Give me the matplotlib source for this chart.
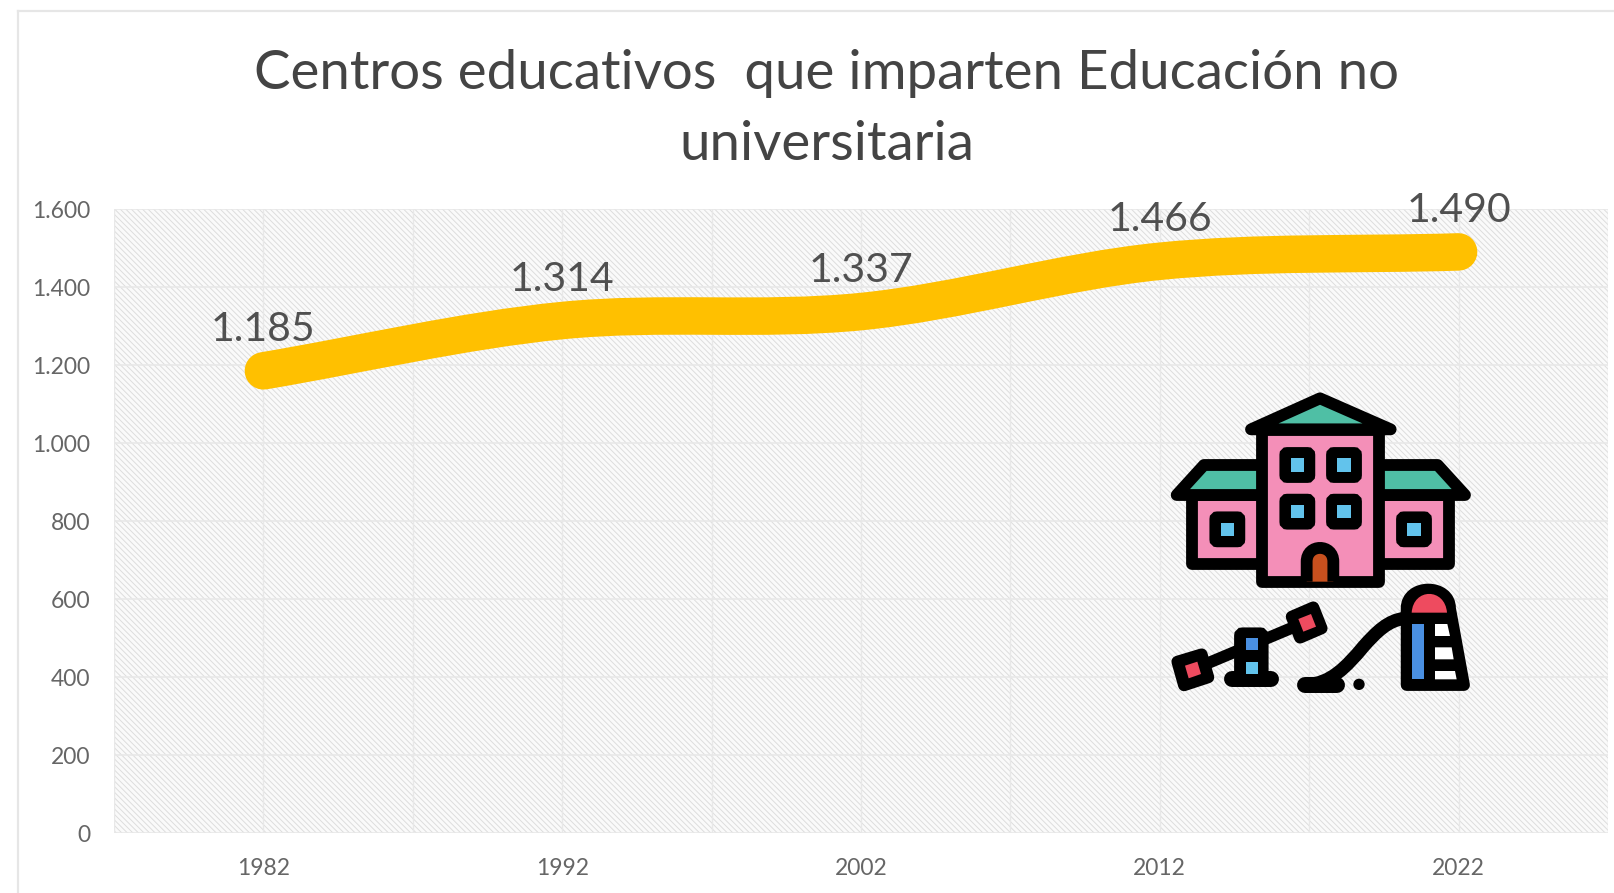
import matplotlib
matplotlib.use("Agg")
import matplotlib.pyplot as plt
from matplotlib.path import Path
from matplotlib.patches import PathPatch, Polygon, Rectangle, FancyBboxPatch, Circle
from matplotlib.lines import Line2D

years = ["1982", "1992", "2002", "2012", "2022"]
centros = [1185, 1314, 1337, 1466, 1490]
labels = ["1.185", "1.314", "1.337", "1.466", "1.490"]
yticks = [0, 200, 400, 600, 800, 1000, 1200, 1400, 1600]
ytick_labels = ["0", "200", "400", "600", "800", "1.000", "1.200", "1.400", "1.600"]

W, H = 1614, 893
plt.rcParams['font.family'] = ['Lato', 'DejaVu Sans']
plt.rcParams['hatch.linewidth'] = 0.7
plt.rcParams['hatch.color'] = '#dddddd'

fig = plt.figure(figsize=(W / 100, H / 100), dpi=100, facecolor='white')

# outer chart frame, runs off the image on the right and at the bottom
frame = '#e6e6e6'
fig.add_artist(Line2D([18 / W, 18 / W], [0, 1 - 11 / H], color=frame, lw=1.6))
fig.add_artist(Line2D([18 / W, 1], [1 - 11 / H, 1 - 11 / H], color=frame, lw=1.6))

ax = fig.add_axes([114 / W, 1 - 833 / H, (1608 - 114) / W, (833 - 209) / H])
ax.set_xlim(-0.5, 4.5)
ax.set_ylim(0, 1600)
ax.patch.set_facecolor('#fafafa')
ax.patch.set_hatch('\\\\\\\\\\\\')
ax.patch.set_edgecolor('#dddddd')
ax.patch.set_linewidth(0)
for s in ax.spines.values():
    s.set_visible(False)

# gridlines: horizontal on ticks, vertical every half category
for y in yticks:
    ax.axhline(y, color='#e8e8e8', lw=1.2, zorder=1)
for i in range(11):
    ax.axvline(-0.5 + i * 0.5, color='#e8e8e8', lw=1.0, zorder=1)

# smoothed line, same kind of curve a spreadsheet draws: bezier through each value
n = len(centros)
verts = [(0, centros[0])]
codes = [Path.MOVETO]
for i in range(n - 1):
    y1 = centros[i]
    y2 = centros[i + 1]
    # first and last point take the slope of their own segment
    t1 = (y2 - centros[i - 1]) / 6 if i > 0 else (y2 - y1) / 3
    t2 = (centros[i + 2] - y1) / 6 if i < n - 2 else (y2 - y1) / 3
    verts += [(i + 1 / 3, y1 + t1), (i + 2 / 3, y2 - t2), (i + 1, y2)]
    codes += [Path.CURVE4] * 3
ax.add_patch(PathPatch(Path(verts, codes), fc='none', ec='#FFC000', lw=27, capstyle='round',
                       joinstyle='round', zorder=3))

for i, txt in enumerate(labels):
    ax.annotate(txt, (i, centros[i]), xytext=(0, 16.5), textcoords='offset points', ha='center',
                va='bottom', fontsize=29.5, color='#505050', zorder=4, annotation_clip=False)

ax.set_xticks(range(n))
ax.set_xticklabels(years)
ax.set_yticks(yticks)
ax.set_yticklabels(ytick_labels)
ax.tick_params(length=0, labelsize=16.5, labelcolor='#666666')
ax.tick_params(axis='x', pad=17.8)
ax.tick_params(axis='y', pad=17)

fig.text(827 / W, 1 - 73 / H, "Centros educativos  que imparten Educación no", ha='center', va='center',
         fontsize=39.3, color='#444444')
fig.text(827 / W, 1 - 144 / H, "universitaria", ha='center', va='center', fontsize=39.3, color='#444444')

# school and playground icon, drawn in its own small axes
ic = fig.add_axes([1140 / W, 1 - 720 / H, 350 / W, 350 / H])
ic.set_xlim(0, 1050)
ic.set_ylim(1050, 0)
ic.axis('off')
ic.patch.set_alpha(0)
K = '#000000'
PINK = '#F48FB8'
TEAL = '#4FBFA5'
SKY = '#62C3EC'
RED = '#EE4B5F'
BLUE = '#4A90E2'
LW = 8.5


def poly(pts, fc, z=2):
    ic.add_patch(Polygon(pts, closed=True, fc=fc, ec=K, lw=LW, joinstyle='round', zorder=z))


def fill(pts, fc, z=4):
    ic.add_patch(Polygon(pts, closed=True, fc=fc, ec='none', zorder=z))


def window(cx, cy):
    ic.add_patch(FancyBboxPatch((cx - 36, cy - 36), 72, 72, boxstyle='round,pad=0,rounding_size=6',
                                fc=K, ec=K, lw=LW, zorder=4))
    ic.add_patch(Rectangle((cx - 20, cy - 20), 40, 40, fc=SKY, ec='none', zorder=5))


# side wings, the middle block covers their inner ends
poly([(157, 375), (400, 375), (400, 582), (157, 582)], PINK)
poly([(680, 375), (928, 375), (928, 582), (680, 582)], PINK)
poly([(110, 375), (192, 285), (400, 285), (400, 375)], TEAL)
poly([(680, 285), (893, 285), (975, 375), (680, 375)], TEAL)
# middle block and roof
poly([(367, 180), (717, 180), (717, 635), (367, 635)], PINK, 3)
poly([(333, 178), (540, 85), (752, 178)], TEAL, 3)
for cx, cy in [(472, 285), (612, 285), (472, 425), (612, 425), (262, 478), (822, 478)]:
    window(cx, cy)
# door
ic.add_patch(PathPatch(Path([(500, 635), (500, 575), (500, 520), (580, 520), (580, 575), (580, 635)],
                            [Path.MOVETO, Path.LINETO, Path.CURVE4, Path.CURVE4, Path.CURVE4, Path.LINETO]),
                       fc='#C8501E', ec=K, lw=LW, zorder=4))

# seesaw
ic.add_line(Line2D([155, 500], [900, 755], color=K, lw=LW, zorder=2))
ic.add_line(Line2D([275, 393], [928, 928], color=K, lw=LW + 3, solid_capstyle='round', zorder=3))
ic.add_patch(FancyBboxPatch((300, 790), 68, 130, boxstyle='round,pad=0,rounding_size=8', fc=K, ec=K, lw=LW, zorder=3))
ic.add_patch(Rectangle((317, 805), 38, 36, fc=BLUE, ec='none', zorder=4))
ic.add_patch(Rectangle((317, 875), 38, 36, fc=SKY, ec='none', zorder=4))
poly([(112, 875), (185, 853), (205, 922), (132, 946)], K, 3)
fill([(135, 887), (172, 875), (183, 912), (146, 925)], RED)
poly([(455, 740), (520, 712), (545, 775), (480, 803)], K, 3)
fill([(475, 747), (513, 732), (528, 770), (490, 785)], RED)

# slide and tower
ic.add_patch(PathPatch(Path([(500, 943), (570, 943), (620, 890), (670, 830), (710, 785), (745, 750), (795, 745)],
                            [Path.MOVETO] + [Path.CURVE4] * 6),
                       fc='none', ec=K, lw=LW + 1, capstyle='round', zorder=3))
ic.add_line(Line2D([495, 590], [944, 944], color=K, lw=LW + 3, solid_capstyle='round', zorder=3))
ic.add_patch(Circle((657, 943), 17, fc=K, ec='none', zorder=3))
ic.add_patch(PathPatch(Path([(800, 945), (800, 715), (800, 640), (930, 640), (930, 715), (972, 945), (800, 945)],
                            [Path.MOVETO, Path.LINETO, Path.CURVE4, Path.CURVE4, Path.CURVE4, Path.LINETO, Path.CLOSEPOLY]),
                       fc=K, ec=K, lw=LW, joinstyle='round', zorder=3))
ic.add_patch(Rectangle((815, 762), 36, 166, fc=BLUE, ec='none', zorder=4))
ic.add_patch(PathPatch(Path([(815, 728), (820, 653), (915, 653), (921, 728), (815, 728)],
                            [Path.MOVETO, Path.CURVE4, Path.CURVE4, Path.CURVE4, Path.CLOSEPOLY]),
                       fc=RED, ec='none', zorder=4))
for pts in [[(885, 762), (922, 762), (930, 798), (885, 798)],
            [(885, 832), (935, 832), (941, 868), (885, 868)],
            [(885, 903), (945, 903), (950, 928), (885, 928)]]:
    fill(pts, 'white')

fig.savefig("out.png", dpi=100)
